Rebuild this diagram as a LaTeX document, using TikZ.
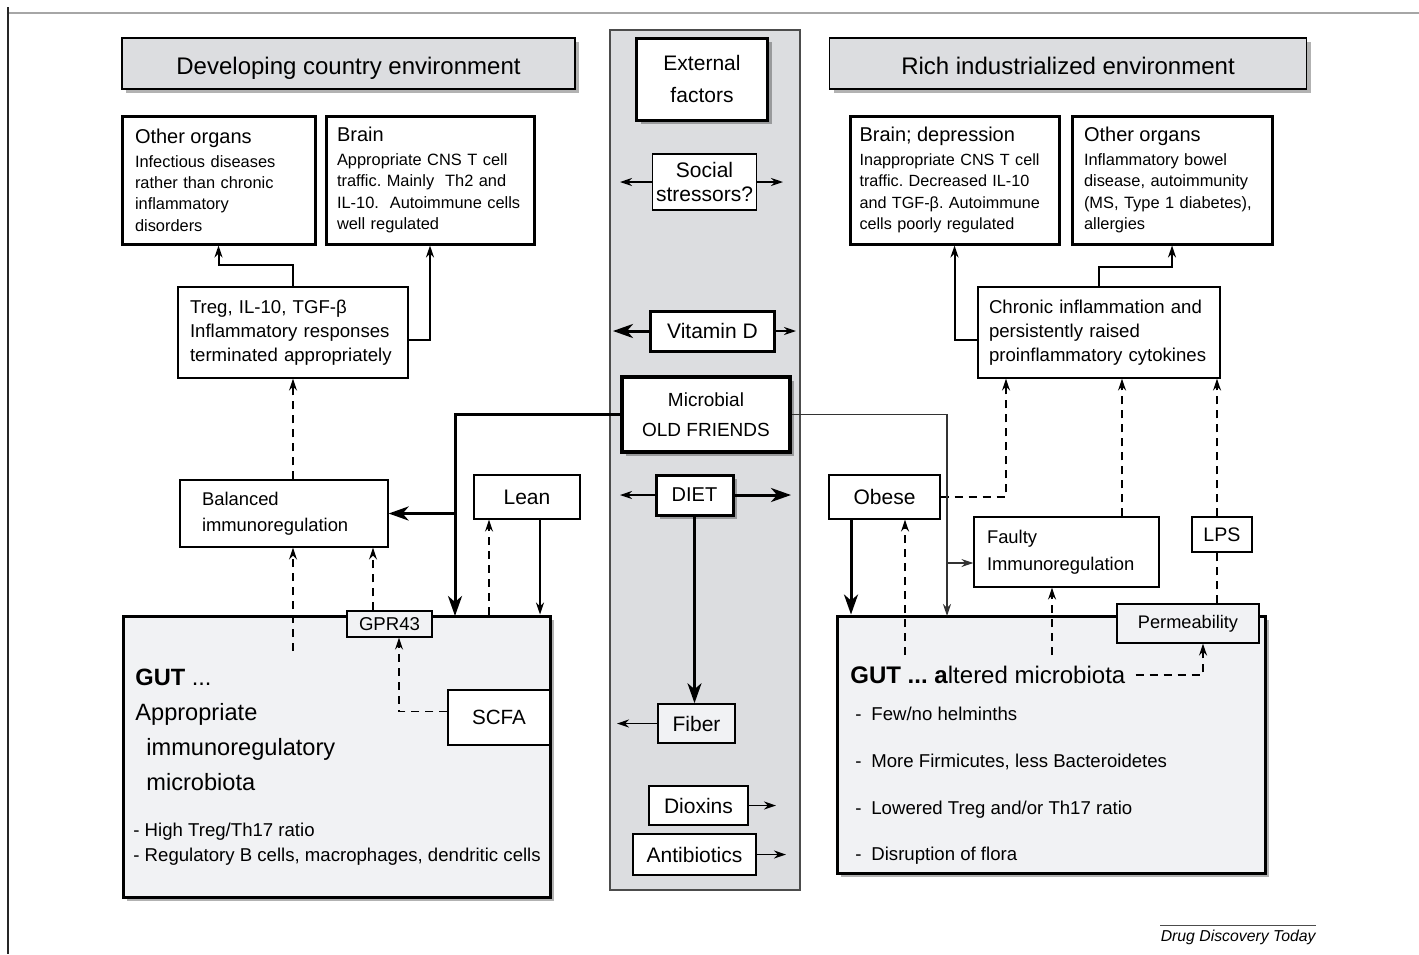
\documentclass[tikz,border=0pt]{standalone}
\usepackage{fontspec}
\setmainfont{Liberation Sans}
\usetikzlibrary{arrows.meta,shadows}
\definecolor{panel}{RGB}{220,221,224}
\definecolor{gutbg}{RGB}{241,242,244}
\newcommand{\fsize}[2]{\fontsize{#1}{#2}\selectfont}
\frenchspacing
\hyphenpenalty=10000
\exhyphenpenalty=10000

\begin{document}
\begin{tikzpicture}[x=0.5pt,y=-0.5pt,>={Stealth[length=6pt,width=4pt]},
  box/.style={draw, fill=white, line width=0.6pt, inner sep=0pt},
  wh/.style 2 args={minimum width=#1*0.5pt, minimum height=#2*0.5pt},
  tw/.style={text width=#1*0.5pt, align=left},
  thickbox/.style={line width=1.5pt},
  titlebox/.style={box, fill=panel, dshadow, line width=0.8pt, font=\fsize{12}{14}, text height=11pt, text depth=0pt},
  dshadow/.style={drop shadow={shadow xshift=2.2pt,shadow yshift=-2.2pt,fill=black,opacity=0.3}},
  conn/.style={line width=1pt,->},
  thinarr/.style={line width=0.6pt,->},
  heavy/.style={line width=1.5pt,-{Stealth[length=10pt,width=7pt,inset=3pt]}},
  dsh/.style={line width=0.8pt,dash pattern=on 4pt off 3pt,->}]
\useasboundingbox (0,0) rectangle (1419,954);
% frame
\draw[gray!70, line width=0.9pt] (8,13) -- (1419,13);
\draw[black!85, line width=1pt] (8,7) -- (8,954);

% external factors column
\draw[fill=panel, draw=black!70, line width=0.6pt] (610,30) rectangle (800,890);

% titles
\node[titlebox, wh={453}{51}] (devt) at (348.5,63.5) {Developing country environment};
\node[titlebox, wh={477}{51}] (richt) at (1068,63.5) {Rich industrialized environment};

% centre boxes
\node[box, thickbox, dshadow, wh={131}{82}, align=center, font=\fsize{10.5}{16}] (ext) at (702,79) {External\\factors};
\node[box, line width=0.8pt, wh={104}{56}, align=center, font=\fsize{10.5}{12}] (social) at (704.5,182) {Social\\stressors?};
\node[box, thickbox, wh={124}{40}, font=\fsize{10.5}{12}] (vitd) at (712.5,331) {Vitamin D};
\node[box, line width=2pt, dshadow, wh={168}{75}, align=center, font=\fsize{9.5}{15}] (microbe) at (706,414.5) {Microbial\\OLD FRIENDS};
\node[box, thickbox, dshadow, wh={77}{40}, font=\fsize{10}{12}] (diet) at (694.5,495) {DIET};
\node[box, fill=gutbg, line width=0.8pt, wh={77}{39}, font=\fsize{10.5}{12}] (fiber) at (696.5,723.5) {Fiber};
\node[box, line width=0.8pt, wh={99}{39}, font=\fsize{10.5}{12}] (dioxins) at (698.5,805.5) {Dioxins};
\node[box, line width=0.8pt, wh={123}{41}, font=\fsize{10.5}{12}] (antib) at (694.5,854.5) {Antibiotics};

% left: developing country
\node[box, thickbox, wh={193}{128}, tw={167}, font=\fsize{8.2}{10.7}] (orgL) at (218.5,180) {{\fsize{10}{12}Other organs}\\[1.3pt]Infectious diseases\\rather than chronic\\inflammatory\\disorders};
\node[box, thickbox, wh={208}{128}, tw={186}, font=\fsize{8.2}{10.7}] (brainL) at (430,180) {{\fsize{10}{12}Brain}\\[1.3pt]Appropriate CNS T cell\\traffic. Mainly\ \ Th2 and\\IL-10.\ \ Autoimmune cells\\well regulated};
\node[box, wh={230}{91}, tw={206}, font=\fsize{9.3}{12}] (tregL) at (293,332.5) {Treg, IL-10, TGF-β\\Inflammatory responses\\terminated appropriately};
\node[box, wh={208}{67}, tw={164}, font=\fsize{9.2}{13}] (balL) at (284,513.5) {Balanced\\immunoregulation};
\node[box, wh={106}{44}, font=\fsize{10.5}{12}] (lean) at (527,497) {Lean};
\node[box, thickbox, fill=gutbg, dshadow, wh={427}{281}] (gutL) at (336.5,756.5) {};
\node[box, fill=gutbg, wh={85}{26}, font=\fsize{9.3}{11}] (gpr) at (389.5,624) {GPR43};
\node[box, wh={102}{55}, font=\fsize{10.3}{12}] (scfa) at (499,717.5) {SCFA};
\node[anchor=west, align=left, inner sep=0pt, font=\fsize{11.8}{17.5}] (gutLtxt) at (135,730) {\textbf{GUT} ...\\Appropriate\\\hspace*{5.5pt}immunoregulatory\\\hspace*{5.5pt}microbiota};
\node[anchor=west, align=left, inner sep=0pt, font=\fsize{9.3}{12.5}] (gutLlist) at (133,844.5) {- High Treg/Th17 ratio\\- Regulatory B cells, macrophages, dendritic cells};

% right: rich industrialized
\node[box, thickbox, wh={209}{128}, tw={190}, font=\fsize{8.1}{10.7}] (brainR) at (954.5,180) {{\fsize{10}{12}Brain; depression}\\[1.3pt]Inappropriate CNS T cell\\traffic. Decreased IL-10\\and TGF-β. Autoimmune\\cells poorly regulated};
\node[box, thickbox, wh={200}{128}, tw={176}, font=\fsize{8.2}{10.7}] (orgR) at (1172,180) {{\fsize{10}{12}Other organs}\\[1.3pt]Inflammatory bowel\\disease, autoimmunity\\(MS, Type 1 diabetes),\\allergies};
\node[box, wh={242}{91}, tw={220}, font=\fsize{9.3}{12}] (chronic) at (1099,332.5) {Chronic inflammation and\\persistently raised\\proinflammatory cytokines};
\node[box, wh={111}{44}, font=\fsize{10.5}{12}] (obese) at (884.5,497) {Obese};
\node[box, wh={185}{70}, tw={159}, font=\fsize{9.2}{13.5}] (faulty) at (1066.5,552) {Faulty\\Immunoregulation};
\node[box, wh={60}{35}, font=\fsize{9.8}{12}] (lps) at (1222,534.5) {LPS};
\node[box, thickbox, fill=gutbg, dshadow, wh={428}{257}] (gutR) at (1051,744.5) {};
\node[box, fill=gutbg, wh={142}{39}, font=\fsize{9.1}{11}] (perm) at (1188,623.5) {Permeability};
\node[anchor=west, inner sep=0pt, font=\fsize{12}{14}] (gutRtxt) at (850,675) {\textbf{GUT ... a}ltered microbiota};
\node[anchor=west, align=left, inner sep=0pt, font=\fsize{9.3}{23.3}] (gutRlist) at (855,786) {\makebox[8pt][l]{-}Few/no helminths\\\makebox[8pt][l]{-}More Firmicutes, less Bacteroidetes\\\makebox[8pt][l]{-}Lowered Treg and/or Th17 ratio\\\makebox[8pt][l]{-}Disruption of flora};

% free ends of the column arrows
\coordinate (socL) at (620,182);
\coordinate (socR) at (783,182);
\coordinate (vitL) at (613,331);
\coordinate (vitR) at (796,331);
\coordinate (dietL) at (620,495);
\coordinate (dietR) at (791,495);
\coordinate (fibL) at (617,723.5);
\coordinate (dioR) at (776,805.5);
\coordinate (antR) at (786,854.5);
\coordinate (mL) at (455,616);
\coordinate (jL) at (455,513.5);
\coordinate (mR) at (947,616);
\coordinate (jR) at (947,563);
\coordinate (g1) at (293,651);
\coordinate (g2) at (905,655);
\coordinate (g3) at (1052,655);

% column arrows
\draw[line width=0.8pt,->] (social.west) -- (socL);
\draw[line width=0.8pt,->] (social.east) -- (socR);
\draw[heavy] (vitd.west) -- (vitL);
\draw[conn] (vitd.east) -- (vitR);
\draw[thinarr] (diet.west) -- (dietL);
\draw[heavy] (diet.east) -- (dietR);
\draw[heavy, line width=1.2pt] (diet.south) -- (fiber.north -| diet.south);
\draw[line width=0.8pt,->] (fiber.west) -- (fibL);
\draw[line width=0.8pt,->] (dioxins.east) -- (dioR);
\draw[line width=0.8pt,->] (antib.east) -- (antR);

% left connectors
\draw[conn] (tregL.north) -- ++(0,-21) -| (orgL.south);
\draw[conn] ([yshift=-3.5pt]tregL.east) -| (brainL.south);
\draw[dsh] (tregL.south |- balL.north) -- (tregL.south);
\draw[heavy] (microbe.west) -| (mL);
\draw[heavy] (jL) -- (balL.east);
\draw[thinarr] ([xshift=6.5pt]lean.south) -- ([xshift=6.5pt]lean.south |- gutL.north);
\draw[dsh] ([xshift=-19pt]lean.south |- gutL.north) -- ([xshift=-19pt]lean.south);
\draw[dsh] (g1) -- (g1 |- balL.south);
\draw[dsh] ([xshift=-8.25pt]gpr.north) -- ([xshift=-8.25pt]gpr.north |- balL.south);
\draw[dsh] ([yshift=3pt]scfa.west) -| ([xshift=4.75pt]gpr.south);

% right connectors
\draw[conn] ([yshift=-3.5pt]chronic.west) -| (brainR.south);
\draw[conn] (chronic.north) -- ++(0,-19) -| (orgR.south);
\draw[dsh] (obese.east) -| ([xshift=-46.5pt]chronic.south);
\draw[dsh] ([xshift=27.75pt]faulty.north) -- ([xshift=27.75pt]faulty.north |- chronic.south);
\draw[dsh] ([xshift=-2.5pt]lps.north) -- ([xshift=-2.5pt]lps.north |- chronic.south);
\draw[dsh,-] ([xshift=-2.5pt]lps.south |- perm.north) -- ([xshift=-2.5pt]lps.south);
\draw[thinarr, black!80] (microbe.east) -| (mR);
\draw[thinarr, black!80] (jR) -- (jR -| faulty.west);
\draw[heavy] ([xshift=-16.75pt]obese.south) -- ([xshift=-16.75pt]obese.south |- gutR.north);
\draw[dsh] (g2) -- (g2 |- obese.south);
\draw[dsh] (g3) -- (g3 |- faulty.south);
\draw[dsh] ([xshift=5pt]gutRtxt.east) -| ([xshift=7.5pt]perm.south);

% source line
\node[anchor=east, inner sep=0pt, font=\itshape\fsize{7.9}{9}] (ddt) at (1316,937) {Drug Discovery Today};
\draw[black!70, line width=0.5pt] ([yshift=2pt]ddt.north west) -- ([yshift=2pt]ddt.north east);
\end{tikzpicture}
\end{document}
